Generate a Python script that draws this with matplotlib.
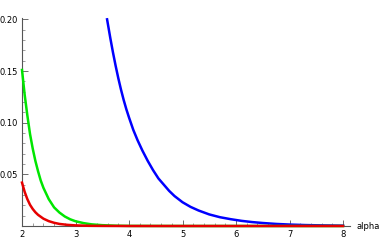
import matplotlib.pyplot as plt
from matplotlib.ticker import MultipleLocator

# values
blue_x = [3.59, 3.65, 3.70, 3.75, 3.80, 3.85, 3.90, 3.95, 4.00, 4.08, 4.16, 4.25,
          4.35, 4.45, 4.55, 4.65, 4.75, 4.85, 5.00, 5.15, 5.30, 5.50, 5.70, 5.90,
          6.10, 6.30, 6.50, 6.75, 7.00, 7.30, 7.60, 8.00]
blue_y = [0.200, 0.182, 0.168, 0.155, 0.143, 0.132, 0.122, 0.113, 0.105, 0.093, 0.083, 0.073,
          0.063, 0.054, 0.046, 0.040, 0.034, 0.029, 0.023, 0.0185, 0.0150, 0.0112, 0.0085, 0.0066,
          0.0050, 0.0038, 0.0029, 0.0020, 0.0014, 0.0009, 0.0006, 0.0003]

green_x = [2.00, 2.05, 2.10, 2.15, 2.20, 2.25, 2.30, 2.35, 2.40, 2.50, 2.60, 2.70,
           2.80, 2.90, 3.00, 3.15, 3.30, 3.50, 3.75, 4.00, 5.00, 8.00]
green_y = [0.151, 0.127, 0.107, 0.089, 0.075, 0.063, 0.053, 0.044, 0.037, 0.026, 0.018, 0.0130,
           0.0092, 0.0065, 0.0046, 0.0028, 0.0016, 0.0008, 0.0003, 0.0001, 0.0, 0.0]

red_x = [2.00, 2.05, 2.10, 2.15, 2.20, 2.25, 2.30, 2.40, 2.50, 2.60, 2.70, 2.85,
         3.00, 3.25, 3.50, 4.00, 8.00]
red_y = [0.042, 0.033, 0.026, 0.0205, 0.0165, 0.0133, 0.0108, 0.0071, 0.0047, 0.0031, 0.0020, 0.0011,
         0.0006, 0.0002, 0.0001, 0.0, 0.0]

x_ticks = [2, 3, 4, 5, 6, 7, 8]
y_ticks = [0.05, 0.10, 0.15, 0.20]
y_labels = ["0.05", "0.10", "0.15", "0.20"]

fig = plt.figure(figsize=(3.82, 2.43), dpi=100)
ax = fig.add_axes([22 / 382, 1 - 226 / 243, (350 - 22) / 382, (226 - 18) / 243])

lw = 1.8
ax.plot(blue_x, blue_y, color=(0, 0, 1), lw=lw, zorder=3, clip_on=False,
        solid_joinstyle="round")
ax.plot(green_x, green_y, color=(0, 0.9, 0), lw=lw, zorder=3, clip_on=False,
        solid_joinstyle="round")
ax.plot(red_x, red_y, color=(0.9, 0, 0), lw=lw, zorder=4, clip_on=False,
        solid_joinstyle="round")

ax.set_xlim(2, 8.13)
ax.set_ylim(0, 0.2013)

for side in ["top", "right"]:
    ax.spines[side].set_visible(False)
for side in ["left", "bottom"]:
    ax.spines[side].set_color("#555555")
    ax.spines[side].set_linewidth(0.8)

ax.set_xticks(x_ticks)
ax.set_yticks(y_ticks)
ax.set_yticklabels(y_labels)
ax.xaxis.set_minor_locator(MultipleLocator(0.2))
ax.yaxis.set_minor_locator(MultipleLocator(0.01))
ax.tick_params(which="major", direction="in", length=4, width=0.6, color="#555555",
               labelsize=6, pad=3)
ax.tick_params(which="minor", direction="in", length=2, width=0.5, color="#777777")

ax.text(8.25, 0.0, "alpha", fontsize=6, va="center", ha="left",
        transform=ax.transData, clip_on=False)

fig.savefig("out.png", dpi=100)
